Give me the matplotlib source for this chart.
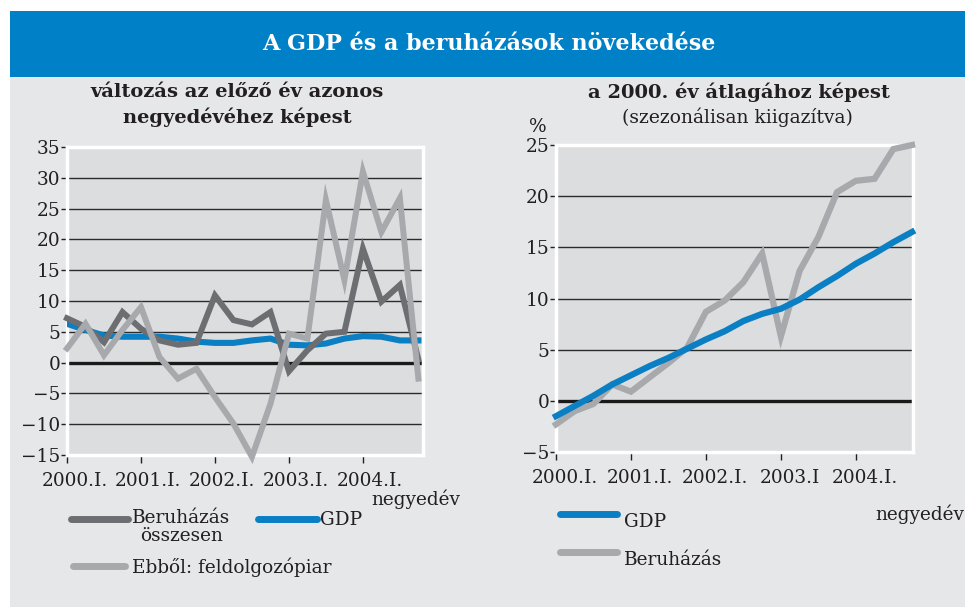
import matplotlib
matplotlib.use("Agg")
import matplotlib.pyplot as plt
from matplotlib.lines import Line2D
from matplotlib.patches import Rectangle
import matplotlib.transforms as mtransforms

plt.rcParams['font.family'] = ['DejaVu Serif']

# ---------------- data ----------------
quarters = list(range(20))  # 2000.I .. 2004.IV
left_tick_pos = [0, 4, 8, 12, 16]
left_tick_labels = ['2000.I.', '2001.I.', '2002.I.', '2003.I.', '2004.I.']
right_tick_labels = ['2000.I.', '2001.I.', '2002.I.', '2003.I', '2004.I.']

# left: change vs same quarter of previous year (%)
beruhazas_ossz = [7.2, 5.8, 3.3, 8.2, 5.5, 3.6, 2.9, 3.2, 10.9, 6.9,
                  6.2, 8.2, -1.4, 2.0, 4.7, 5.0, 18.5, 9.9, 12.6, 0.5]
gdp_yoy = [6.3, 5.3, 4.4, 4.2, 4.2, 4.2, 3.9, 3.4, 3.2, 3.2,
           3.6, 3.9, 2.9, 2.8, 3.1, 3.9, 4.3, 4.2, 3.6, 3.6]
feldolgozoipar = [2.3, 6.3, 1.2, 5.3, 9.0, 0.9, -2.6, -1.0, -5.6, -9.9,
                  -15.3, -6.7, 4.7, 3.9, 26.4, 13.4, 31.0, 21.2, 26.7, -2.6]

# right: relative to 2000 average (%), seasonally adjusted
gdp_idx = [-1.5, -0.5, 0.5, 1.6, 2.5, 3.4, 4.2, 5.1, 6.0, 6.8,
           7.8, 8.5, 9.0, 9.9, 11.1, 12.2, 13.4, 14.4, 15.5, 16.5]
beruhazas_idx = [-2.3, -1.0, -0.3, 1.6, 0.9, 2.3, 3.7, 5.2, 8.7, 9.8,
                 11.6, 14.4, 6.3, 12.7, 16.0, 20.4, 21.5, 21.7, 24.6, 25.0]

left_yticks = [-15, -10, -5, 0, 5, 10, 15, 20, 25, 30, 35]
right_yticks = [-5, 0, 5, 10, 15, 20, 25]

# ---------------- style ----------------
C_BLUE_BAND = '#0080c6'
C_BG = '#e6e7e8'
C_PLOT = '#dcdddf'
C_DARK = '#6d6e71'
C_LIGHT = '#a7a9ac'
C_GDP = '#0a7fc4'
C_TXT = '#231f20'
FS = 13.3

W, H = 965, 611
fig = plt.figure(figsize=(W / 100, H / 100), dpi=100)
fig.patch.set_facecolor('white')


def fx(px):
    return px / W


def fy(py):
    return 1 - py / H


def box(x0, y0, x1, y1):
    return [fx(x0), fy(y1), fx(x1) - fx(x0), fy(y0) - fy(y1)]


# backgrounds
fig.add_artist(Rectangle((fx(10), fy(607)), fx(965) - fx(10), fy(77) - fy(607),
                         transform=fig.transFigure, facecolor=C_BG, edgecolor='none', zorder=0))
fig.add_artist(Rectangle((fx(10), fy(77)), fx(965) - fx(10), fy(11) - fy(77),
                         transform=fig.transFigure, facecolor=C_BLUE_BAND, edgecolor='none', zorder=0))

fig.text(fx(489), fy(44), 'A GDP és a beruházások növekedése', color='white',
         fontsize=16, fontweight='bold', ha='center', va='center')

# subtitles
fig.text(fx(237), fy(92), 'változás az előző év azonos', fontsize=14, fontweight='bold',
         ha='center', va='center', color=C_TXT)
fig.text(fx(237), fy(117), 'negyedévéhez képest', fontsize=14, fontweight='bold',
         ha='center', va='center', color=C_TXT)
fig.text(fx(739), fy(92), 'a 2000. év átlagához képest', fontsize=14, fontweight='bold',
         ha='center', va='center', color=C_TXT)
fig.text(fx(737), fy(117), '(szezonálisan kiigazítva)', fontsize=13.5,
         ha='center', va='center', color=C_TXT)
fig.text(fx(538), fy(127), '%', fontsize=FS, ha='center', va='center', color=C_TXT)


def style_axes(ax, yticks, ylim, xmax):
    ax.set_facecolor(C_PLOT)
    ax.set_ylim(*ylim)
    ax.set_xlim(0, xmax)
    for s in ax.spines.values():
        s.set_color('white')
        s.set_linewidth(2.5)
    ax.set_yticks(yticks)
    ax.set_yticklabels([f'{v}'.replace('-', '\u2212') for v in yticks])
    ax.set_xticks(left_tick_pos)
    ax.set_xticklabels([])
    ax.tick_params(axis='y', length=4, width=1, color=C_TXT, labelsize=FS,
                   labelcolor=C_TXT, pad=1)
    ax.tick_params(axis='x', length=6, width=1, color=C_TXT, direction='out')
    for v in yticks[1:-1]:
        if v == 0:
            ax.axhline(v, color='#1a1a1a', lw=2.4, zorder=2)
        else:
            ax.axhline(v, color='#2b2b2b', lw=1.0, zorder=1)


# left chart
axL = fig.add_axes(box(67, 147, 423, 455))
style_axes(axL, left_yticks, (-15, 35), 19.25)
axL.plot(quarters, gdp_yoy, color=C_GDP, lw=4.4, zorder=3, solid_joinstyle='miter')
axL.plot(quarters, beruhazas_ossz, color=C_DARK, lw=4.3, zorder=4, solid_joinstyle='miter', clip_on=False)
axL.plot(quarters, feldolgozoipar, color=C_LIGHT, lw=4.3, zorder=5, solid_joinstyle='miter', clip_on=False)
trL = mtransforms.blended_transform_factory(axL.transData, axL.transAxes)
for p, lab in zip(left_tick_pos, left_tick_labels):
    axL.text(p + 0.4, -0.085, lab, transform=trL, ha='center', va='center', fontsize=FS,
             color=C_TXT)
fig.text(fx(416), fy(499), 'negyedév', fontsize=FS, ha='center', va='center', color=C_TXT)

# right chart
axR = fig.add_axes(box(556, 145, 913, 452))
style_axes(axR, right_yticks, (-5, 25), 19.05)
axR.plot(quarters, beruhazas_idx, color=C_LIGHT, lw=4.5, zorder=3, solid_joinstyle='miter', clip_on=False)
axR.plot(quarters, gdp_idx, color=C_GDP, lw=4.5, zorder=4, solid_joinstyle='miter', clip_on=False)
trR = mtransforms.blended_transform_factory(axR.transData, axR.transAxes)
for p, lab in zip(left_tick_pos, right_tick_labels):
    axR.text(p + 0.5, -0.085, lab, transform=trR, ha='center', va='center', fontsize=FS,
             color=C_TXT)
fig.text(fx(920), fy(514), 'negyedév', fontsize=FS, ha='center', va='center', color=C_TXT)


# legends
def leg_line(x0, x1, y, color):
    fig.add_artist(Line2D([fx(x0), fx(x1)], [fy(y), fy(y)], transform=fig.transFigure,
                          color=color, lw=5, solid_capstyle='round'))


leg_line(71, 128, 519, C_DARK)
fig.text(fx(132), fy(519), 'Beruházás\nösszesen', fontsize=FS, ha='left', va='top',
         multialignment='center', color=C_TXT, linespacing=1.0,
         transform=fig.transFigure + mtransforms.ScaledTranslation(0, 10 / 100, fig.dpi_scale_trans))
leg_line(258, 317, 519, C_GDP)
fig.text(fx(320), fy(520), 'GDP', fontsize=FS, ha='left', va='center', color=C_TXT)
leg_line(73, 125, 566, C_LIGHT)
fig.text(fx(132), fy(567), 'Ebből: feldolgozópiar', fontsize=FS, ha='left', va='center',
         color=C_TXT)

leg_line(560, 617, 514, C_GDP)
fig.text(fx(624), fy(522), 'GDP', fontsize=FS, ha='left', va='center', color=C_TXT)
leg_line(560, 617, 552, C_LIGHT)
fig.text(fx(624), fy(560), 'Beruházás', fontsize=FS, ha='left', va='center', color=C_TXT)

fig.savefig('out.png', dpi=100, facecolor=fig.get_facecolor())
